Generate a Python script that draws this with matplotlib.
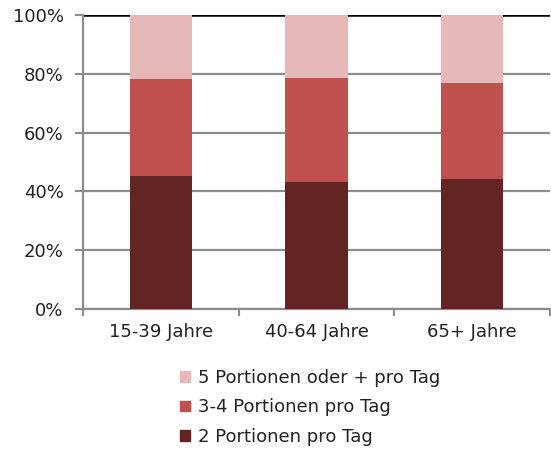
import numpy as np
import matplotlib.pyplot as plt
from matplotlib.patches import Patch

# Anteile je Altersgruppe [%]
gruppen = ["15-39 Jahre", "40-64 Jahre", "65+ Jahre"]
zwei = [45.3, 43.1, 44.1]
drei_vier = [32.8, 35.4, 32.7]
fuenf_plus = [21.9, 21.5, 23.2]

farben = ["#632523", "#C0504D", "#E6B9B8"]
labels = ["2 Portionen pro Tag", "3-4 Portionen pro Tag", "5 Portionen oder + pro Tag"]

fs = 13
fig = plt.figure(figsize=(5.51, 4.5), dpi=100)
ax = fig.add_axes([83/551, 1-309/450, 1-83/551-0.002, (309-15)/450])

x = np.arange(len(gruppen))
b = 0.4
ax.bar(x, zwei, b, color=farben[0], zorder=3)
ax.bar(x, drei_vier, b, bottom=zwei, color=farben[1], zorder=3)
ax.bar(x, fuenf_plus, b, bottom=np.add(zwei, drei_vier), color=farben[2], zorder=3)

ax.set_xlim(-0.5, 2.5)
ax.set_ylim(0, 100)
ax.set_yticks(np.arange(0, 101, 20))
ax.set_yticklabels([f"{v}%" for v in range(0, 101, 20)], fontsize=fs, color="#222222")
ax.yaxis.grid(True, color="#8C8C8C", lw=1.6, zorder=1)
ax.axhline(100, color="black", lw=1.8, zorder=2)

# Kategoriennamen mittig, Striche an den Grenzen
ax.set_xticks(x)
ax.set_xticklabels(gruppen, fontsize=fs, color="#222222")
ax.tick_params(axis="x", length=0, pad=10)
ax.set_xticks([-0.5, 0.5, 1.5, 2.5], minor=True)
ax.tick_params(axis="x", which="minor", length=5, width=1.5, color="#8C8C8C")
ax.tick_params(axis="y", length=6, width=1.5, color="#8C8C8C", pad=8)

for s in ["top", "right"]:
    ax.spines[s].set_visible(False)
for s in ["left", "bottom"]:
    ax.spines[s].set_color("#8C8C8C")
    ax.spines[s].set_linewidth(1.6)

handles = [Patch(color=farben[i]) for i in [2, 1, 0]]
fig.legend(handles, [labels[i] for i in [2, 1, 0]], loc="upper left",
           bbox_to_anchor=(164/551, 1-353/450), frameon=False, fontsize=fs,
           handlelength=0.55, handleheight=0.55, handletextpad=0.45,
           labelspacing=0.62, labelcolor="#222222")

fig.savefig("out.png", dpi=100)
